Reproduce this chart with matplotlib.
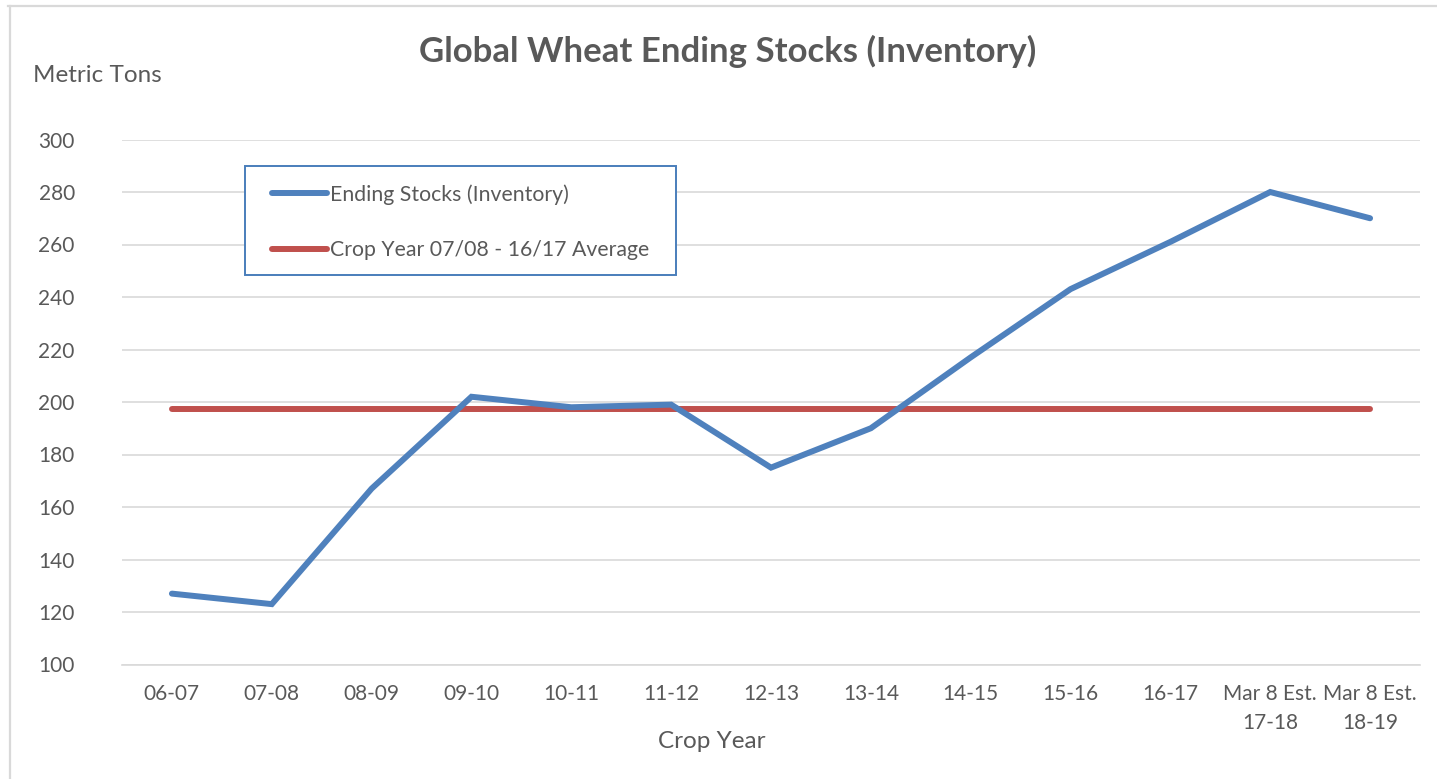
import matplotlib
matplotlib.use("Agg")
import matplotlib.pyplot as plt
from matplotlib.lines import Line2D
from matplotlib.patches import Rectangle

# Data
crop_years = ["06-07", "07-08", "08-09", "09-10", "10-11", "11-12", "12-13",
              "13-14", "14-15", "15-16", "16-17", "Mar 8 Est.\n17-18", "Mar 8 Est.\n18-19"]
ending_stocks = [127, 123, 167, 202, 198, 199, 175, 190, 217, 243, 261, 280, 270]
avg_stock = 197.5
y_ticks = [100, 120, 140, 160, 180, 200, 220, 240, 260, 280, 300]

# Style
plt.rcParams['font.family'] = ['Lato', 'DejaVu Sans']
txt_col = '#595959'
grid_col = '#d9d9d9'
blue = '#4f81bd'
red = '#c0504d'

W, H = 1437, 779
fig = plt.figure(figsize=(W / 100, H / 100), dpi=100)
ax = fig.add_axes([122 / W, 1 - 664.5 / H, (1420 - 122) / W, (664.5 - 139.5) / H])

x = list(range(len(crop_years)))
ax.plot(x, ending_stocks, color=blue, lw=4.3, solid_capstyle='round',
        solid_joinstyle='miter', zorder=3)
ax.plot(x, [avg_stock] * len(x), color=red, lw=4.3, solid_capstyle='round', zorder=2)

ax.set_xlim(-0.5, len(x) - 0.5)
ax.set_ylim(100, 300)
ax.set_yticks(y_ticks)
ax.set_xticks(x)
ax.set_xticklabels(crop_years)
for lab in ax.get_xticklabels():
    lab.set_linespacing(1.55)

ax.grid(axis='y', color=grid_col, lw=1.2)
ax.set_axisbelow(True)
for s in ['top', 'right', 'left']:
    ax.spines[s].set_visible(False)
ax.spines['bottom'].set_color(grid_col)
ax.spines['bottom'].set_linewidth(1.2)
ax.tick_params(axis='both', length=0, labelsize=15, colors=txt_col)
ax.tick_params(axis='y', pad=34)
ax.tick_params(axis='x', pad=14)

# Titles
fig.text(728 / W, 1 - 51 / H, "Global Wheat Ending Stocks (Inventory)", ha='center', va='center',
         fontsize=25, fontweight='bold', color=txt_col)
fig.text(33 / W, 1 - 75 / H, "Metric Tons", ha='left', va='center', fontsize=17.5, color=txt_col)
fig.text(712 / W, 1 - 742 / H, "Crop Year", ha='center', va='center', fontsize=17.5, color=txt_col)

# Legend (frame drawn separately)
ax.add_patch(Rectangle((245 / W, 1 - 275 / H), (676 - 245) / W, (275 - 166) / H,
                       transform=fig.transFigure, facecolor='white', edgecolor='#4a7ebb',
                       lw=1.4, zorder=4, clip_on=False))
handles = [Line2D([], [], color=blue, lw=4.3, solid_capstyle='round'),
           Line2D([], [], color=red, lw=4.3, solid_capstyle='round')]
leg = ax.legend(handles, ["Ending Stocks (Inventory)", "Crop Year 07/08 - 16/17 Average"],
                loc='upper left', bbox_to_anchor=(272 / W, 1 - 184 / H),
                bbox_transform=fig.transFigure, fontsize=15.3, frameon=False,
                handlelength=2.6, handletextpad=0.15, labelspacing=1.68, borderpad=0,
                borderaxespad=0)
leg.set_zorder(6)
for t in leg.get_texts():
    t.set_color(txt_col)

# Chart border (top and left)
fig.add_artist(Line2D([8 / W, 1], [1 - 6 / H, 1 - 6 / H], color=grid_col, lw=1.6,
                      transform=fig.transFigure))
fig.add_artist(Line2D([10 / W, 10 / W], [0, 1 - 6 / H], color=grid_col, lw=1.6,
                      transform=fig.transFigure))

fig.savefig("out.png", dpi=100)
